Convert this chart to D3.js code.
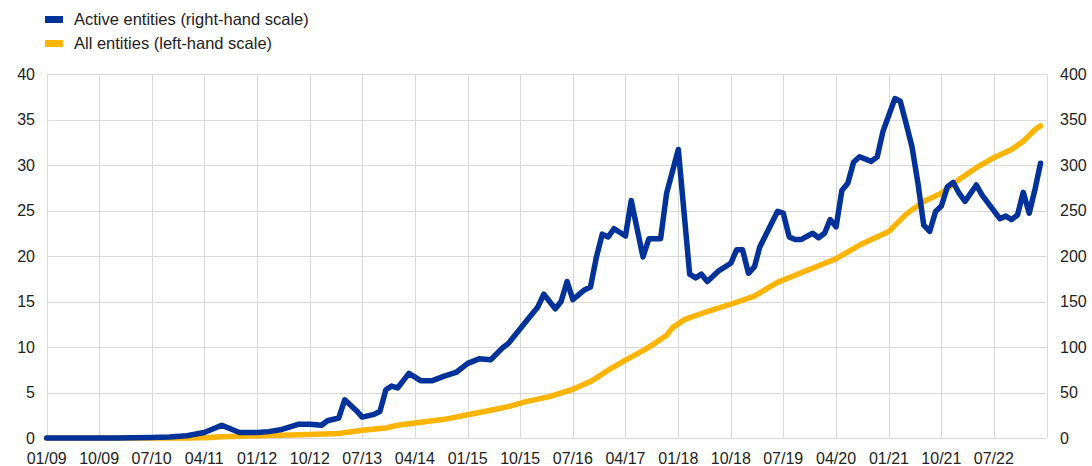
<!DOCTYPE html>
<html>
<head>
<meta charset="utf-8">
<script src="https://cdn.jsdelivr.net/npm/d3@7"></script>
<style>
  body { margin: 0; background: #fff; }
  text { font-family: "Liberation Sans", Arial, sans-serif; fill: #222; }
</style>
</head>
<body>
<svg id="chart" width="1092" height="466"></svg>
<script>
// Active entities (right-hand scale)
const activeDates = [
  "2009-01","2009-07","2010-01","2010-07","2010-10","2011-01","2011-04","2011-07","2011-10","2012-01",
  "2012-03","2012-05","2012-08","2012-10","2012-12","2013-01","2013-03","2013-04","2013-06","2013-07",
  "2013-09","2013-10","2013-11","2013-12","2014-01","2014-03","2014-05","2014-07","2014-09","2014-11",
  "2015-01","2015-03","2015-05","2015-07","2015-08","2015-10","2015-12","2016-01","2016-02","2016-04",
  "2016-05","2016-06","2016-07","2016-09","2016-10","2016-11","2016-12","2017-01","2017-02","2017-04",
  "2017-05","2017-07","2017-08","2017-10","2017-11","2018-01","2018-03","2018-04","2018-05","2018-06",
  "2018-08","2018-10","2018-11","2018-12","2019-01","2019-02","2019-03","2019-04","2019-06","2019-07",
  "2019-08","2019-09","2019-10","2019-12","2020-01","2020-02","2020-03","2020-04","2020-05","2020-06",
  "2020-07","2020-08","2020-10","2020-11","2020-12","2021-01","2021-02","2021-03","2021-04","2021-05",
  "2021-06","2021-07","2021-08","2021-09","2021-10","2021-11","2021-12","2022-01","2022-02","2022-04",
  "2022-05","2022-08","2022-09","2022-10","2022-11","2022-12","2023-01","2023-02","2023-03"
];
const activeValues = [
  0, 0, 0, 0.5, 1, 2.5, 6, 14, 6, 6,
  7, 9, 15, 15, 14, 19, 22, 42, 30, 23,
  26, 29, 53, 57, 55, 71, 63, 63, 68, 72,
  82, 87, 86, 99, 104, 120, 136, 144, 158, 142,
  150, 172, 152, 163, 166, 199, 224, 221, 230, 222,
  261, 199, 219, 219, 269, 317, 180, 176, 180, 172,
  184, 192, 207, 207, 181, 188, 210, 223, 249, 247,
  221, 218, 218, 225, 220, 225, 240, 232, 272, 280,
  303, 309, 304, 309, 337, 355, 373, 370, 345, 320,
  280, 234, 227, 249, 255, 276, 281, 269, 260, 278,
  267, 241, 244, 240, 245, 270, 247, 274, 302
];

// All entities (left-hand scale)
const allDates = [
  "2009-01","2011-01","2011-05","2011-07","2012-01","2012-07","2013-03","2013-07","2013-11","2014-01",
  "2014-04","2014-09","2015-01","2015-05","2015-08","2015-11","2016-03","2016-07","2016-10","2017-01",
  "2017-04","2017-07","2017-09","2017-11","2017-12","2018-02","2018-06","2018-10","2019-02","2019-06",
  "2019-11","2020-04","2020-08","2021-01","2021-04","2021-07","2021-10","2022-01","2022-04","2022-07",
  "2022-10","2022-12","2023-02","2023-03"
];
const allValues = [
  0, 0, 0.05, 0.15, 0.25, 0.33, 0.5, 0.85, 1.1, 1.4,
  1.65, 2.05, 2.55, 3.05, 3.45, 4.0, 4.55, 5.35, 6.2, 7.45,
  8.55, 9.6, 10.4, 11.3, 12.1, 13.0, 13.9, 14.7, 15.6, 17.1,
  18.4, 19.7, 21.2, 22.7, 24.6, 26.0, 26.9, 28.4, 29.7, 30.8,
  31.7, 32.6, 33.9, 34.3
];

const xTickLabels = ["01/09","10/09","07/10","04/11","01/12","10/12","07/13","04/14","01/15","10/15",
                     "07/16","04/17","01/18","10/18","07/19","04/20","01/21","10/21","07/22"];
const leftTicks = [0, 5, 10, 15, 20, 25, 30, 35, 40];
const rightTicks = [0, 50, 100, 150, 200, 250, 300, 350, 400];

const seriesNames = ["Active entities (right-hand scale)", "All entities (left-hand scale)"];
const blue = "#003299", yellow = "#FFB400";

const parseMonth = d3.timeParse("%Y-%m");
const parseTick = d3.timeParse("%m/%y");

const margin = { left: 46.7, right: 1092 - 1046.5, top: 74, bottom: 466 - 438 };
const svg = d3.select("#chart");
const width = 1092, height = 466;

const x = d3.scaleTime()
  .domain([parseMonth("2009-01"), parseMonth("2023-04")])
  .range([margin.left, width - margin.right]);
const yLeft = d3.scaleLinear().domain([0, 40]).range([height - margin.bottom, margin.top]);
const yRight = d3.scaleLinear().domain([0, 400]).range([height - margin.bottom, margin.top]);

const tickDates = xTickLabels.map(parseTick);

// gridlines
const grid = svg.append("g").attr("stroke", "#d9d9d9").attr("stroke-width", 1);
grid.selectAll(".h").data(leftTicks).enter().append("line")
  .attr("x1", margin.left).attr("x2", width - margin.right)
  .attr("y1", d => Math.round(yLeft(d)) + 0.5).attr("y2", d => Math.round(yLeft(d)) + 0.5);
grid.selectAll(".v").data(tickDates.concat([x.domain()[1]])).enter().append("line")
  .attr("x1", d => Math.round(x(d)) + 0.5).attr("x2", d => Math.round(x(d)) + 0.5)
  .attr("y1", margin.top).attr("y2", height - margin.bottom);

// axes
const fontSize = 16;
svg.append("g").selectAll("text").data(leftTicks).enter().append("text")
  .attr("x", 35).attr("y", d => yLeft(d)).attr("dy", "0.35em")
  .attr("text-anchor", "end").attr("font-size", fontSize).text(d => d);
svg.append("g").selectAll("text").data(rightTicks).enter().append("text")
  .attr("x", 1060).attr("y", d => yRight(d)).attr("dy", "0.35em")
  .attr("text-anchor", "start").attr("font-size", fontSize).text(d => d);
svg.append("g").selectAll("text").data(xTickLabels).enter().append("text")
  .attr("x", (d, i) => x(tickDates[i])).attr("y", 458).attr("dy", "0.35em")
  .attr("text-anchor", "middle").attr("font-size", fontSize).text(d => d);

// lines
const allData = allDates.map((d, i) => ({ date: parseMonth(d), value: allValues[i] }));
const activeData = activeDates.map((d, i) => ({ date: parseMonth(d), value: activeValues[i] }));

svg.append("path").datum(allData)
  .attr("fill", "none").attr("stroke", yellow).attr("stroke-width", 5.5)
  .attr("stroke-linejoin", "round").attr("stroke-linecap", "round")
  .attr("d", d3.line().x(d => x(d.date)).y(d => yLeft(d.value)));

svg.append("path").datum(activeData)
  .attr("fill", "none").attr("stroke", blue).attr("stroke-width", 5.5)
  .attr("stroke-linejoin", "round").attr("stroke-linecap", "round")
  .attr("d", d3.line().x(d => x(d.date)).y(d => yRight(d.value)));

// legend
const legend = svg.append("g");
[blue, yellow].forEach((c, i) => {
  legend.append("rect").attr("x", 45).attr("y", 16 + i * 24).attr("width", 18).attr("height", 7).attr("fill", c);
  legend.append("text").attr("x", 74).attr("y", 19.5 + i * 24).attr("dy", "0.35em")
    .attr("font-size", 16.5).text(seriesNames[i]);
});
</script>
</body>
</html>
